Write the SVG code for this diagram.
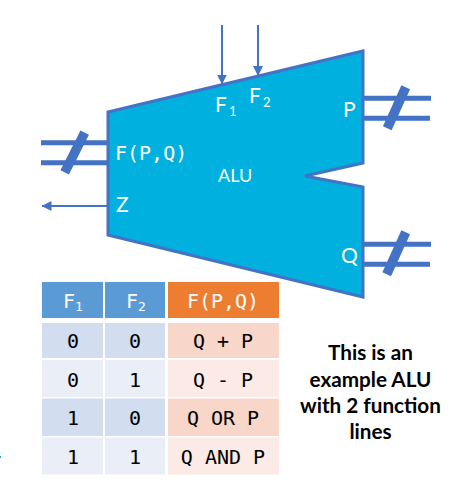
<svg xmlns="http://www.w3.org/2000/svg" width="457" height="487" viewBox="0 0 457 487">
<style>
.w{fill:#fff;font-family:"Lato","Noto Sans",sans-serif;font-size:21px}
.m{font-family:"DejaVu Sans Mono","Liberation Mono",monospace;font-size:20px}
.s{font-size:13px}
.c{text-anchor:middle}
.b{fill:#000;font-family:"Lato","Open Sans",sans-serif;font-weight:700;font-size:20.7px;text-anchor:middle}
.t{fill:#000}
.l{stroke:#4472c4;fill:none;stroke-width:2}
.bus{stroke:#4472c4;fill:none;stroke-width:5}
.sl{stroke:#4472c4;fill:none;stroke-width:9.5}
.h1{fill:#5b9bd5}.h2{fill:#ed7d31}.a1{fill:#d2deef}.a2{fill:#eaeff7}.o1{fill:#f8d6ca}.o2{fill:#fbeae6}
</style>
<defs>
<marker id="ah" markerWidth="10" markerHeight="10" refX="9.5" refY="5" orient="auto" markerUnits="userSpaceOnUse"><path d="M0 0L10 5L0 10Z" fill="#4472c4"/></marker>
</defs>
<g id="connectors">
<path class="l" d="M222 25V84" marker-end="url(#ah)"/>
<path class="l" d="M258 25V75.5" marker-end="url(#ah)"/>
<path class="l" d="M108 206H42" marker-end="url(#ah)"/>
<path class="bus" d="M41 142.7H108M41 162.7H108"/>
<path class="sl" d="M84.7 132.7L64.7 172.3"/>
<path class="bus" d="M363 98.3H431M363 118.3H430"/>
<path class="sl" d="M405.7 87.3L387.3 128.3"/>
<path class="bus" d="M363 244.3H431M363 264.3H430"/>
<path class="sl" d="M405.7 232.3L386.7 274.3"/>
</g>
<g id="alu">
<path d="M108 112L363 51V163L305 176L363 187V297L108 235Z" fill="#00b0de" stroke="#4472c4" stroke-width="3"/>
<text class="w" x="215" y="112">F<tspan class="s" dx="2" dy="4">1</tspan></text>
<text class="w" x="249" y="103">F<tspan class="s" dx="2" dy="4">2</tspan></text>
<text class="w" x="343" y="117">P</text>
<text class="w m" x="115" y="160">F(P,Q)</text>
<text class="w" x="218" y="182" style="font-size:18px">ALU</text>
<text class="w" x="116" y="212">Z</text>
<text class="w" x="341" y="263">Q</text>
</g>
<g id="table">
<rect class="h1" x="42" y="282" width="61" height="36"/><rect class="h1" x="105" y="282" width="60" height="36"/><rect class="h2" x="168" y="282" width="111" height="36"/>
<rect class="a1" x="42" y="323" width="61" height="35"/><rect class="a1" x="105" y="323" width="60" height="35"/><rect class="o1" x="168" y="323" width="111" height="35"/>
<rect class="a2" x="42" y="360" width="61" height="37"/><rect class="a2" x="105" y="360" width="60" height="37"/><rect class="o2" x="168" y="360" width="111" height="37"/>
<rect class="a1" x="42" y="398.500" width="61" height="37.500"/><rect class="a1" x="105" y="398.500" width="60" height="37.500"/><rect class="o1" x="168" y="398.500" width="111" height="37.500"/>
<rect class="a2" x="42" y="437.500" width="61" height="37"/><rect class="a2" x="105" y="437.500" width="60" height="37"/><rect class="o2" x="168" y="437.500" width="111" height="37"/>
<text class="w m" x="63" y="308">F<tspan class="s" dy="3">1</tspan></text>
<text class="w m" x="126" y="308">F<tspan class="s" dy="3">2</tspan></text>
<text class="w m c" x="223" y="308">F(P,Q)</text>
<g class="m t c">
<text x="73" y="348">0</text><text x="135" y="348">0</text><text x="223" y="348">Q + P</text>
<text x="73" y="386.500">0</text><text x="135" y="386.500">1</text><text x="223" y="386.500">Q - P</text>
<text x="73" y="425">1</text><text x="135" y="425">0</text><text x="223" y="425">Q OR P</text>
<text x="73" y="464">1</text><text x="135" y="464">1</text><text x="223" y="464">Q AND P</text>
</g>
</g>
<g id="note">
<text class="b" x="370.500" y="360">This is an</text>
<text class="b" x="370.500" y="386.500">example ALU</text>
<text class="b" x="370.500" y="412.500">with 2 function</text>
<text class="b" x="370.500" y="439">lines</text>
</g>
<rect x="0" y="456" width="1" height="2" fill="#00b0de"/>
</svg>
